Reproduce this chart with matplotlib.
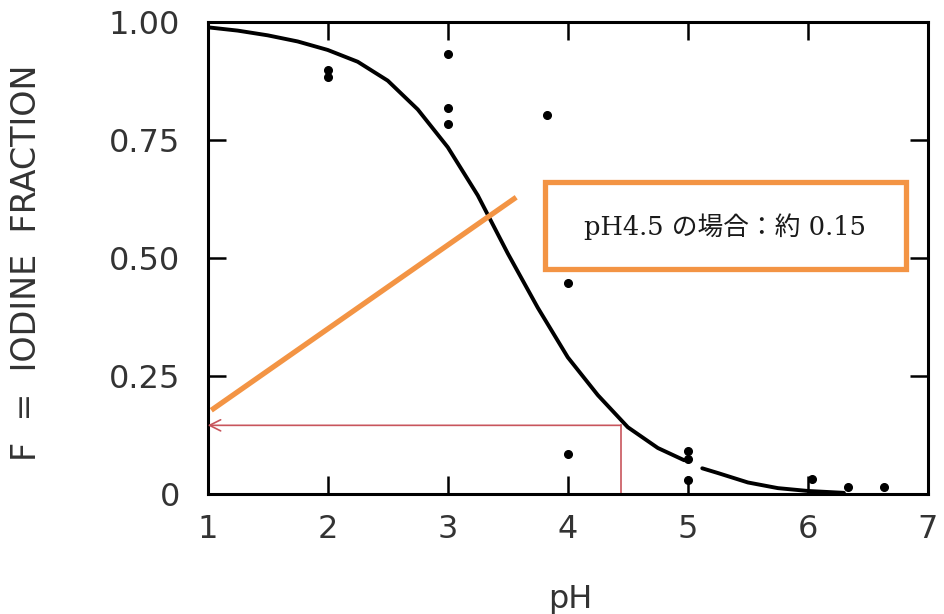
import matplotlib.pyplot as plt
import numpy as np
from matplotlib.patches import Rectangle

# 読み取った測定点 (pH, F)
ph_obs = [2.0, 2.0, 3.0, 3.0, 3.0, 3.83, 4.0, 4.0, 5.0, 5.0, 5.0, 6.03, 6.33, 6.63]
f_obs = [0.898, 0.883, 0.932, 0.818, 0.784, 0.803, 0.447, 0.085, 0.091, 0.074, 0.030, 0.032, 0.015, 0.015]

# 曲線 (図から読み取り, pH5付近は原図で途切れている)
ph_curve = [1.00, 1.25, 1.50, 1.75, 2.00, 2.25, 2.50, 2.75, 3.00, 3.25, 3.50, 3.75, 4.00,
            4.25, 4.50, 4.75, 4.97, np.nan, 5.12, 5.25, 5.50, 5.75, 6.00, 6.30]
f_curve = [0.989, 0.982, 0.972, 0.959, 0.941, 0.916, 0.876, 0.815, 0.735, 0.633, 0.510, 0.395, 0.290,
           0.210, 0.142, 0.098, 0.072, np.nan, 0.055, 0.045, 0.025, 0.013, 0.007, 0.003]

x_ticks = [1, 2, 3, 4, 5, 6, 7]
y_ticks = [0, 0.25, 0.5, 0.75, 1.0]
y_ticklabels = ["0", "0.25", "0.50", "0.75", "1.00"]

# 注記
ph_read, f_read = 4.44, 0.146
orange_line = ([1.03, 3.57], [0.178, 0.629])
note = "pH4.5 の場合：約 0.15"

fig = plt.figure(figsize=(9.44, 6.14), dpi=100)
ax = fig.add_axes([0.220, 0.195, 0.763, 0.769])

ax.plot(ph_curve, f_curve, color="black", lw=2.8, solid_capstyle="round",
        solid_joinstyle="round")
ax.plot(ph_obs, f_obs, "o", color="black", ms=5.5)

ax.set_xlim(1, 7)
ax.set_ylim(0, 1)
ax.set_xticks(x_ticks)
ax.set_yticks(y_ticks)
ax.set_yticklabels(y_ticklabels)
ax.tick_params(direction="in", length=13, width=1.8, top=True, right=True,
               labelsize=23, colors="black", labelcolor="#333333")
ax.tick_params(axis="x", pad=14)
ax.tick_params(axis="y", pad=20)
for s in ax.spines.values():
    s.set_linewidth(2.2)

ax.set_xlabel("pH", fontsize=23, color="#333333")
ax.xaxis.set_label_coords(0.503, -0.19)
ax.set_ylabel("F  =  IODINE  FRACTION", fontsize=24, color="#333333")
ax.yaxis.set_label_coords(-0.228, 0.49)

# 読み取り線 (赤)
red = "#C8555C"
ax.plot([ph_read, ph_read], [0, f_read], color=red, lw=1.2)
ax.annotate("", xy=(1.0, f_read), xytext=(ph_read, f_read),
            arrowprops=dict(arrowstyle="->,head_length=0.8,head_width=0.4",
                            color=red, lw=1.2, shrinkA=0, shrinkB=0))

# オレンジの引き出し線と枠
orange = "#F39444"
ax.plot(orange_line[0], orange_line[1], color=orange, lw=3.8, solid_capstyle="butt")
ax.add_patch(Rectangle((3.81, 0.478), 3.01, 0.184, fill=True, facecolor="white",
                       edgecolor=orange, lw=3.8, zorder=3))
ax.text(5.31, 0.566, note, ha="center", va="center", fontsize=18.5, zorder=4,
        family=["DejaVu Serif", "Noto Sans CJK JP"], color="#1a1a1a")

fig.savefig("out.png", dpi=100)
